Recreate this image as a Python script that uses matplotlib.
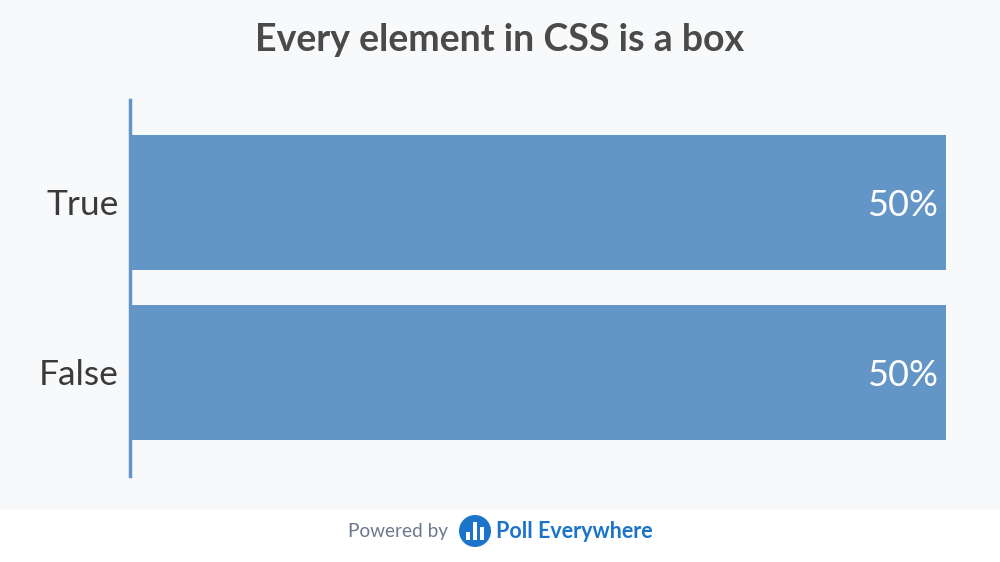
import matplotlib.pyplot as plt
from matplotlib.patches import Rectangle, Circle

# data
title = "Every element in CSS is a box"
categories = ["True", "False"]
values = [50, 50]
labels = ["50%", "50%"]

bg = "#f8f9fb"
bar_color = "#6396c6"
text_color = "#3a3a3a"
plt.rcParams['font.family'] = ['Lato', 'DejaVu Sans']

fig = plt.figure(figsize=(10, 5.62), dpi=100)
fig.patch.set_facecolor(bg)

# footer strip
fig.patches.append(Rectangle((0, 0), 1, 52 / 562, transform=fig.transFigure,
                             facecolor="white", edgecolor="none", zorder=0))

ax = fig.add_axes([0.130, 1 - 476 / 562, 0.816, 376 / 562])
ax.set_facecolor(bg)
pos = list(range(len(categories)))
ax.barh(pos, values, height=0.794, color=bar_color, zorder=2)
ax.set_xlim(0, 50)
ax.set_ylim(1.608, -0.606)
ax.set_xticks([])
ax.set_yticks([])
for s in ['top', 'right', 'bottom']:
    ax.spines[s].set_visible(False)
ax.spines['left'].set_color(bar_color)
ax.spines['left'].set_linewidth(2.5)

for p, c in zip(pos, categories):
    ax.text(-0.7, p + 0.015, c, color=text_color, fontsize=25.5, ha='right', va='center')

for p, v, t in zip(pos, values, labels):
    ax.text(v - 0.5, p + 0.015, t, color="white", fontsize=26, ha='right', va='center', zorder=3)

fig.text(0.5, 1 - 40 / 562, title, ha='center', va='center', fontsize=27,
         fontweight='bold', color="#4a4a4a")

# footer
fig.text(0.448, 1 - 532 / 562, "Powered by", ha='right', va='center',
         fontsize=13.7, color="#6b788e")
fig.patches.append(Circle((475, 562 - 531), 16, transform=None,
                          facecolor="#1b74c9", edgecolor="none", zorder=3))
for dx, h in [(-7, 8), (0, 18), (7, 13)]:
    fig.patches.append(Rectangle((475 + dx - 2, 562 - 531 - 9), 4, h, transform=None,
                                 facecolor="white", edgecolor="none", zorder=4))
fig.text(0.496, 1 - 532 / 562, "Poll Everywhere", ha='left', va='center',
         fontsize=15.5, fontweight='bold', color="#1b74c9")

fig.savefig("out.png", dpi=100, facecolor=bg)
